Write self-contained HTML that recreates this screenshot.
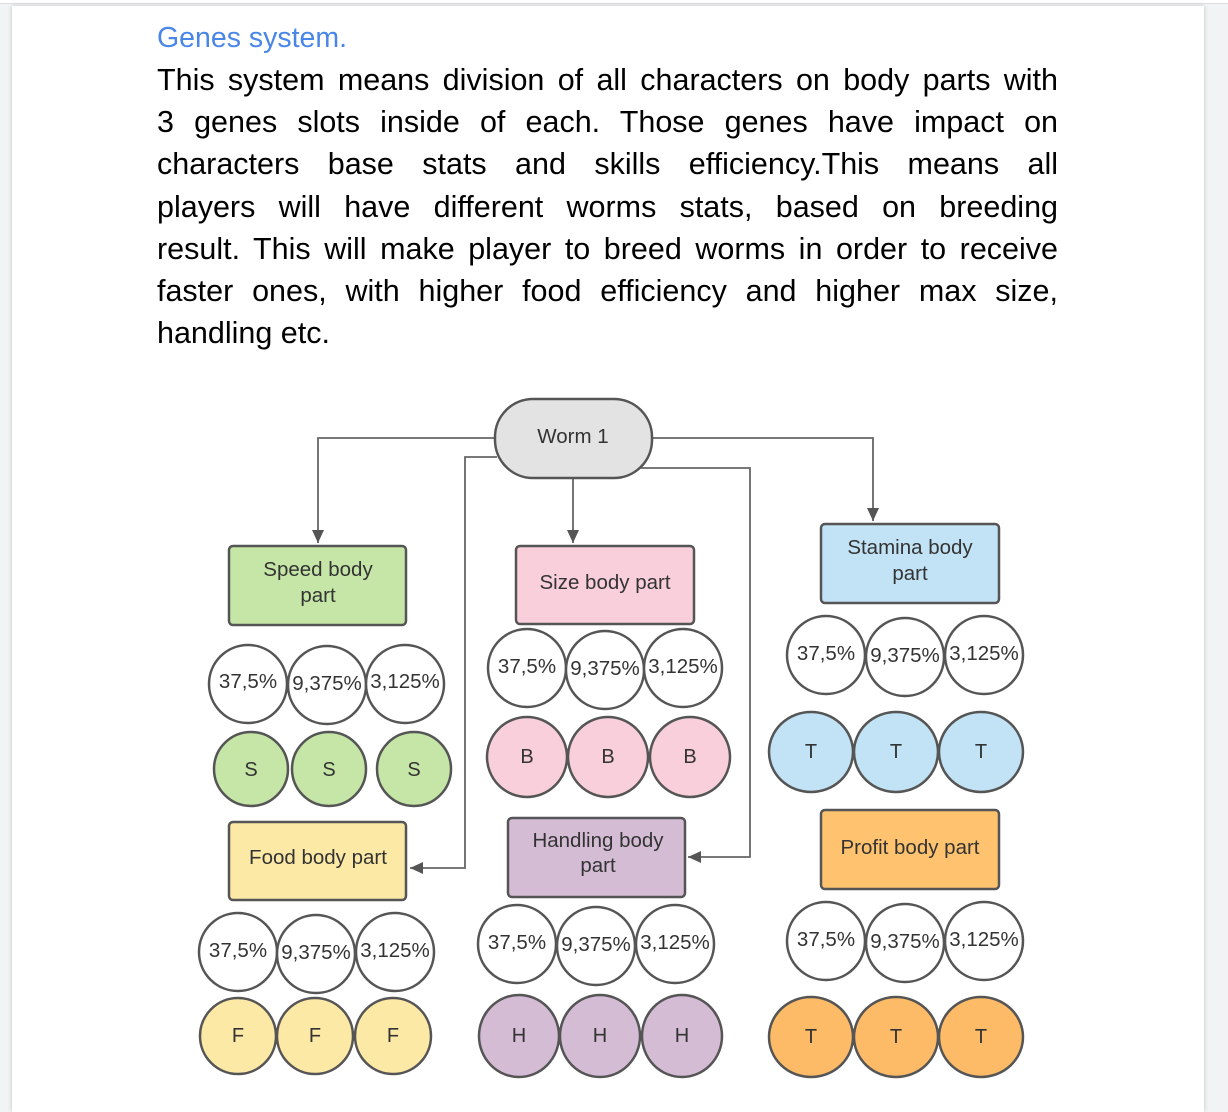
<!DOCTYPE html>
<html><head><meta charset="utf-8"><style>
html,body{margin:0;padding:0;width:1228px;height:1112px;overflow:hidden;background:#f1f3f4;font-family:"Liberation Sans",Arial,sans-serif;}
.page{position:absolute;left:12px;top:6px;width:1192px;height:1106px;background:#fff;box-shadow:0 0 4px rgba(0,0,0,.2);}
.topbar{position:absolute;left:0;top:0;width:1228px;height:3px;background:#fff;border-bottom:1px solid #ddd}
.t{position:absolute;left:157px;width:901px;font-size:30.5px;color:#000;white-space:nowrap;}
.j{text-align:justify;text-align-last:justify;}
</style></head><body>
<div class="topbar"></div>
<div class="page"></div>
<div style="position:absolute;left:157px;top:22px;font-size:28.5px;color:#4a86e8;">Genes system.</div>
<div class="t j" style="top:63px">This system means division of all characters on body parts with</div>
<div class="t j" style="top:105px">3 genes slots inside of each. Those genes have impact on</div>
<div class="t j" style="top:147px">characters base stats and skills efficiency.This means all</div>
<div class="t j" style="top:190px">players will have different worms stats, based on breeding</div>
<div class="t j" style="top:232px">result. This will make player to breed worms in order to receive</div>
<div class="t j" style="top:274px">faster ones, with higher food efficiency and higher max size,</div>
<div class="t" style="top:316px">handling etc.</div>
<svg width="1228" height="1112" style="position:absolute;left:0;top:0" font-family="Liberation Sans, Arial, sans-serif" fill="#333">
<defs>
<marker id="b" markerWidth="14" markerHeight="14" refX="13" refY="6" orient="auto" markerUnits="userSpaceOnUse"><path d="M0,0 L13,6 L0,12 z" fill="#555"/></marker></defs>
<g stroke="#666" stroke-width="1.8" fill="none">
<path d="M495 438 H318 V543" marker-end="url(#b)"/>
<path d="M652 438 H873 V521" marker-end="url(#b)"/>
<path d="M573 478 V543" marker-end="url(#b)"/>
<path d="M497 457 H465 V868 H410" marker-end="url(#b)"/>
<path d="M640 468 H750 V857 H688" marker-end="url(#b)"/>
</g>
<g stroke="#555" stroke-width="2.5">
<rect x="495" y="399" width="157" height="79" rx="38" fill="#e3e3e3"/>
<rect x="229" y="546" width="177" height="79" rx="4" fill="#c5e6a6"/>
<rect x="516" y="546" width="178" height="78" rx="4" fill="#f8cfdb"/>
<rect x="821" y="524" width="178" height="79" rx="4" fill="#c2e2f5"/>
<rect x="229" y="822" width="177" height="78" rx="4" fill="#fde9a6"/>
<rect x="508" y="818" width="177" height="79" rx="4" fill="#d4bcd4"/>
<rect x="821" y="810" width="178" height="79" rx="4" fill="#ffc26f"/>
</g>
<g font-size="20.5" text-anchor="middle">
<text x="573" y="443">Worm 1</text>
<text x="318" y="576">Speed body</text><text x="318" y="602">part</text>
<text x="605" y="589">Size body part</text>
<text x="910" y="554">Stamina body</text><text x="910" y="580">part</text>
<text x="318" y="864">Food body part</text>
<text x="598" y="847">Handling body</text><text x="598" y="872">part</text>
<text x="910" y="854">Profit body part</text>
</g>
<g stroke="#555" stroke-width="2.5" fill="#fff">
<circle cx="248" cy="684" r="39"/><circle cx="327" cy="685" r="39"/><circle cx="405" cy="684" r="39"/>
<circle cx="527" cy="668" r="39"/><circle cx="605" cy="670" r="39"/><circle cx="683" cy="668" r="39"/>
<circle cx="826" cy="655" r="39"/><circle cx="905" cy="657" r="39"/><circle cx="984" cy="655" r="39"/>
<circle cx="238" cy="952" r="39"/><circle cx="316" cy="954" r="39"/><circle cx="395" cy="952" r="39"/>
<circle cx="517" cy="944" r="39"/><circle cx="596" cy="946" r="39"/><circle cx="675" cy="944" r="39"/>
<circle cx="826" cy="941" r="39"/><circle cx="905" cy="943" r="39"/><circle cx="984" cy="941" r="39"/>
</g>
<g stroke="#555" stroke-width="2.5">
<g fill="#c5e6a6"><ellipse cx="251" cy="769" rx="37" ry="37"/><ellipse cx="329" cy="769" rx="37" ry="37"/><ellipse cx="414" cy="769" rx="37" ry="37"/></g>
<g fill="#f8cfdb"><ellipse cx="527" cy="757" rx="40" ry="40"/><ellipse cx="608" cy="757" rx="40" ry="40"/><ellipse cx="690" cy="757" rx="40" ry="40"/></g>
<g fill="#c2e2f5"><ellipse cx="811" cy="752" rx="42" ry="40"/><ellipse cx="896" cy="752" rx="42" ry="40"/><ellipse cx="981" cy="752" rx="42" ry="40"/></g>
<g fill="#fde9a6"><ellipse cx="238" cy="1036" rx="38" ry="38"/><ellipse cx="315" cy="1036" rx="38" ry="38"/><ellipse cx="393" cy="1036" rx="38" ry="38"/></g>
<g fill="#d4bcd4"><ellipse cx="519" cy="1036" rx="40" ry="41"/><ellipse cx="600" cy="1036" rx="40" ry="41"/><ellipse cx="682" cy="1036" rx="40" ry="41"/></g>
<g fill="#fdbb68"><ellipse cx="811" cy="1037" rx="42" ry="40"/><ellipse cx="896" cy="1037" rx="42" ry="40"/><ellipse cx="981" cy="1037" rx="42" ry="40"/></g>
</g>
<g font-size="20.5" text-anchor="middle">
<text x="248" y="688">37,5%</text><text x="327" y="690">9,375%</text><text x="405" y="688">3,125%</text>
<text x="527" y="673">37,5%</text><text x="605" y="675">9,375%</text><text x="683" y="673">3,125%</text>
<text x="826" y="660">37,5%</text><text x="905" y="662">9,375%</text><text x="984" y="660">3,125%</text>
<text x="238" y="957">37,5%</text><text x="316" y="959">9,375%</text><text x="395" y="957">3,125%</text>
<text x="517" y="949">37,5%</text><text x="596" y="951">9,375%</text><text x="675" y="949">3,125%</text>
<text x="826" y="946">37,5%</text><text x="905" y="948">9,375%</text><text x="984" y="946">3,125%</text>
</g>
<g font-size="20" text-anchor="middle">
<text x="251" y="776">S</text><text x="329" y="776">S</text><text x="414" y="776">S</text>
<text x="527" y="763">B</text><text x="608" y="763">B</text><text x="690" y="763">B</text>
<text x="811" y="758">T</text><text x="896" y="758">T</text><text x="981" y="758">T</text>
<text x="238" y="1042">F</text><text x="315" y="1042">F</text><text x="393" y="1042">F</text>
<text x="519" y="1042">H</text><text x="600" y="1042">H</text><text x="682" y="1042">H</text>
<text x="811" y="1043">T</text><text x="896" y="1043">T</text><text x="981" y="1043">T</text>
</g>
</svg>
</body></html>
